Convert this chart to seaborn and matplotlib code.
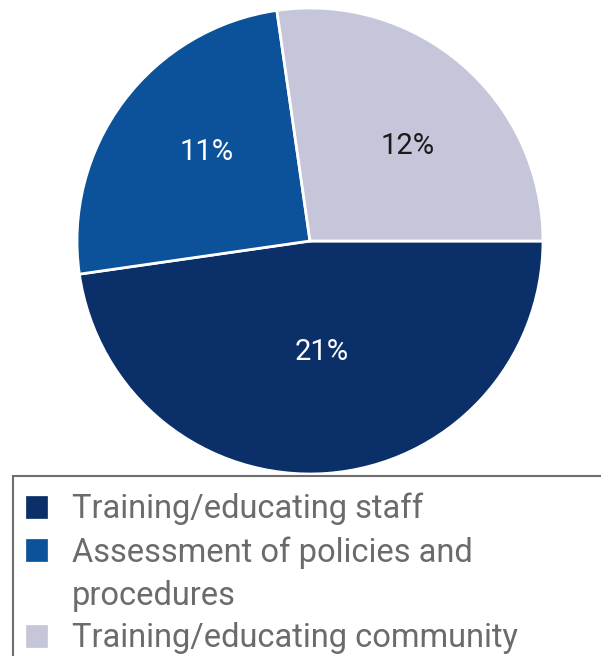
import matplotlib
matplotlib.use("Agg")
import matplotlib.pyplot as plt
from matplotlib.patches import Patch, Rectangle
import numpy as np
import seaborn as sns

# Share of respondents naming each investment
categories = [
    "Training/educating staff",
    "Assessment of policies and\nprocedures",
    "Training/educating community",
]
values = [21, 11, 12]
colors = ["#0A2F69", "#0B529B", "#C5C6DA"]
label_colors = ["white", "white", "#1a1a1a"]
label_radius = [0.48, 0.585, 0.585]
label_turn = [2, -4, -5]  # degrees nudged off each wedge's middle

sns.set_theme(style="white")
plt.rcParams["font.family"] = ["Roboto", "DejaVu Sans"]

W, H = 601, 656
fig = plt.figure(figsize=(W / 100, H / 100), dpi=100)

cx, cy, r = 310, 241, 233
ax = fig.add_axes([(cx - r) / W, 1 - (cy + r) / H, 2 * r / W, 2 * r / H])

palette = sns.color_palette(colors)
wedges, texts, autotexts = ax.pie(
    values,
    colors=palette,
    startangle=0,
    counterclock=False,
    autopct="%d",
    pctdistance=0.55,
    wedgeprops=dict(edgecolor="white", linewidth=2),
)

for i, (w, t) in enumerate(zip(wedges, autotexts)):
    mid = np.deg2rad((w.theta1 + w.theta2) / 2 + label_turn[i])
    t.set_position((label_radius[i] * np.cos(mid), label_radius[i] * np.sin(mid)))
    t.set_text(f"{values[i]}%")
    t.set_color(label_colors[i])
    t.set_fontsize(21)
    t.set_fontweight("normal")
    t.set_ha("center")
    t.set_va("center")

ax.set_xlim(-1, 1)
ax.set_ylim(-1, 1)
ax.set_aspect("equal")
ax.axis("off")

# Legend box, running past the right and bottom edges of the figure
fig.patches.append(Rectangle(
    (13 / W, -0.1), 1.2, (1 - 476 / H) + 0.1,
    transform=fig.transFigure, facecolor="white",
    edgecolor="#6e6e6e", linewidth=1.5, zorder=0,
))

# Legend: wrapped category names continue on a row without a swatch
handles, labels = [], []
for c, name in zip(colors, categories):
    for k, line in enumerate(name.split("\n")):
        if k == 0:
            handles.append(Patch(facecolor=c, edgecolor=c, linewidth=0.5))
        else:
            handles.append(Patch(facecolor="none", edgecolor="none"))
        labels.append(line)

leg = fig.legend(
    handles,
    labels,
    loc="upper left",
    bbox_to_anchor=(26 / W, 1 - 493 / H),
    frameon=False,
    fontsize=23.5,
    handlelength=0.64,
    handleheight=0.64,
    handletextpad=0.77,
    labelspacing=0.33,
    borderpad=0,
    borderaxespad=0,
    labelcolor="#6b6b6b",
)

fig.savefig("out.png", dpi=100)
